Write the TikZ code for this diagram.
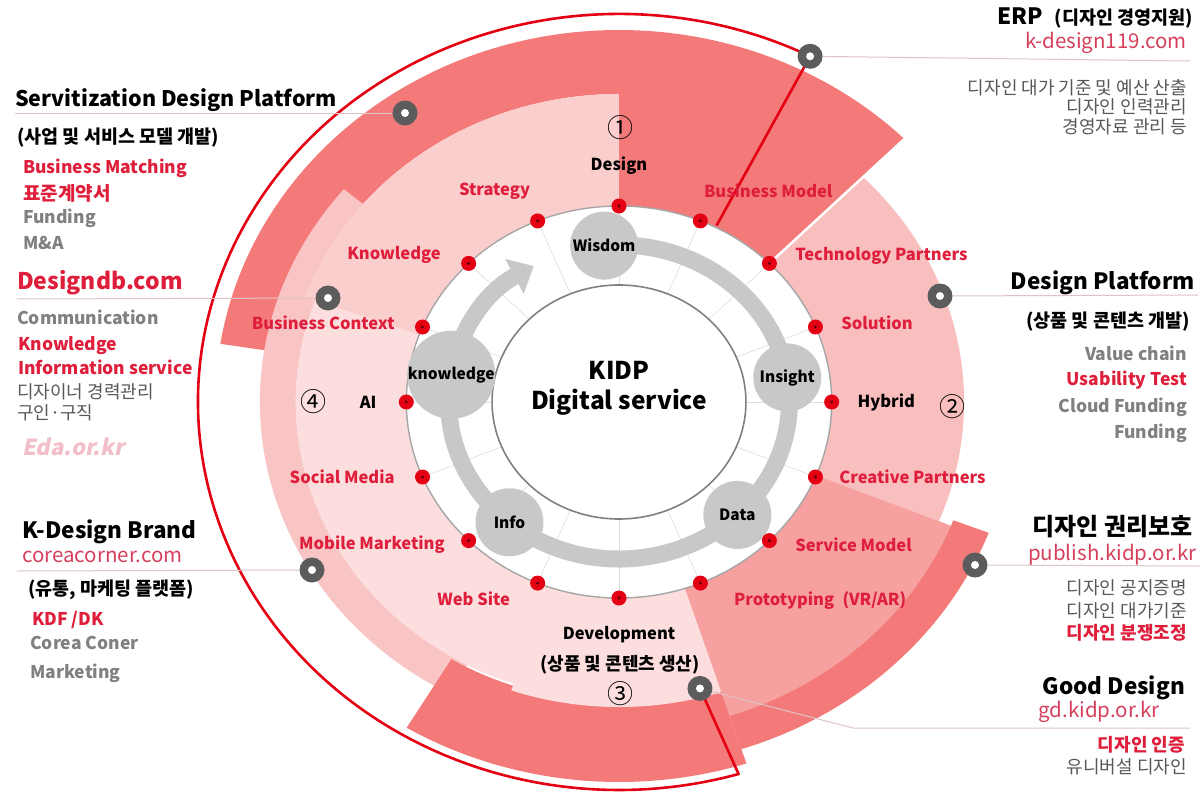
\documentclass[tikz,border=0pt]{standalone}
\usepackage{fontspec}
\setmainfont{Noto Sans CJK KR}
\newfontfamily\slantfont{Noto Sans CJK KR}[FakeSlant=0.2]
\usetikzlibrary{positioning,arrows.meta}

\definecolor{dotred}{RGB}{228,0,18}
\definecolor{textred}{RGB}{222,30,58}
\definecolor{urlred}{RGB}{214,64,92}
\definecolor{itemgray}{RGB}{128,128,128}
\definecolor{notegray}{RGB}{88,88,88}
\definecolor{edapink}{RGB}{242,190,200}
\definecolor{satpk}{RGB}{244,122,122}
\definecolor{lrpk}{RGB}{246,160,160}
\definecolor{dppk}{RGB}{249,190,190}
\definecolor{medpk}{RGB}{248,196,196}
\definecolor{lightpk}{RGB}{252,222,222}
\definecolor{servpk}{RGB}{251,206,206}
\definecolor{gearfill}{RGB}{200,200,200}
\definecolor{discgray}{RGB}{92,92,92}
\definecolor{leadgray}{RGB}{222,196,198}

\begin{document}
\begin{tikzpicture}[x=1pt, y=-1pt]
    \tikzstyle{head} = [anchor=west, inner sep=0pt, font=\bfseries\fontsize{22.5}{26}\selectfont]
    \tikzstyle{headr} = [head, anchor=east]
    \tikzstyle{sub} = [anchor=west, inner sep=0pt, font=\bfseries\fontsize{18.5}{21}\selectfont]
    \tikzstyle{subr} = [sub, anchor=east]
    \tikzstyle{item} = [anchor=west, inner sep=0pt, text=itemgray, font=\bfseries\fontsize{17.5}{20}\selectfont]
    \tikzstyle{itemr} = [item, anchor=east]
    \tikzstyle{note} = [anchor=west, inner sep=0pt, text=notegray, font=\fontsize{18}{21}\selectfont]
    \tikzstyle{noter} = [note, anchor=east]
    \tikzstyle{url} = [anchor=west, inner sep=0pt, text=urlred, font=\fontsize{20.5}{23}\selectfont]
    \tikzstyle{urlr} = [url, anchor=east]
    \tikzstyle{lbl} = [inner sep=0pt, text=textred, font=\bfseries\fontsize{16.5}{19}\selectfont]
    \tikzstyle{lblk} = [lbl, text=black]
    \tikzstyle{num} = [inner sep=0pt, font=\fontsize{26}{29}\selectfont]
    \tikzstyle{reddot} = [circle, fill=dotred, minimum size=15pt, inner sep=0pt, path picture={\fill[black!60!dotred] (path picture bounding box.center) circle[radius=1.6pt];}]
    \tikzstyle{gear} = [circle, fill=gearfill, minimum size=68pt, inner sep=0pt, font=\bfseries\fontsize{15.5}{18}\selectfont]
    \tikzstyle{disc} = [circle, fill=discgray, minimum size=25pt, inner sep=0pt, path picture={\fill[white] (path picture bounding box.center) circle[radius=4pt];}]
    \tikzstyle{leader} = [draw=leadgray, line width=1pt]
    \tikzstyle{redline} = [draw=dotred, line width=2.6pt, line join=round]

    \fill[white] (0,0) rectangle (1202,792);
    \useasboundingbox (0,0) rectangle (1202,792);

    % Wheel
    \begin{scope}[shift={(619,402)}, xscale=1.085, yscale=-1]
        % coloured sectors
        \foreach \c/\a/\b/\ri/\ro in {lightpk/0/360/196/298, satpk/90/171/308/372, medpk/140/242/298/331, servpk/90/160/196/308, satpk/45/90/196/372, dppk/-22/45/196/318, lrpk/-72/-22/196/330, satpk/-72/-21/330/365, satpk/-121/-72/300/380, lightpk/-109/-72/196/305}
            \fill[fill=\c] (\a:\ri) arc[start angle=\a, end angle=\b, radius=\ri] -- (\b:\ro) arc[start angle=\b, end angle=\a, radius=\ro] -- cycle;
        \draw[white, line width=2.5pt] (45:196) -- (45:372);

        % white ring
        \fill[white] (0,0) circle[radius=196];
        \foreach \a in {0,22.5,...,337.5}
            \draw[gearfill!60, line width=0.6pt] (\a:117) -- (\a:196);
        \draw[gray!70, line width=1.4pt] (0,0) circle[radius=196];

        % cycle arrow
        \draw[gearfill, line width=17pt, -{Triangle[width=38pt,length=22pt]}] (95:157) arc[start angle=95, end angle=-240, radius=157];

        % centre
        \draw[fill=white, draw=gray, line width=1.6pt] (0,0) circle[radius=117];
        \node[font=\bfseries\fontsize{24.5}{30}\selectfont, align=center] (kidp) at (0,14) {KIDP\\Digital service};

        \node[gear] (wisdom) at (95:157) {Wisdom};
        \node[gear] (insight) at (9:157) {Insight};
        \node[gear] (data) at (-46:157) {Data};
        \node[gear] (info) at (-130:157) {Info};
        \node[gear] (knowl) at (170:157) {knowledge};

        % dots
        \foreach \i in {0,...,15}
            \node[reddot] (d\i) at ({90-22.5*\i}:196) {};

        % red frame
        \coordinate (bmring) at (63:198);
        \coordinate (erpc) at (63:388);
        \coordinate (gdc) at (-75.4:296);
        \draw[redline] (bmring) -- (erpc) arc[start angle=63, end angle=286.5, radius=388] -- (gdc);
    \end{scope}

    % Connector discs
    \node[disc] (erp) at (erpc) {};
    \node[disc] (gd) at (gdc) {};
    \node[disc] (serv) at (405,113) {};
    \node[disc] (ddb) at (328,298) {};
    \node[disc] (kb) at (312,570) {};
    \node[disc] (dp) at (940,296) {};
    \node[disc] (prot) at (975,565) {};

    \coordinate (servend) at (15,113);
    \coordinate (ddbend) at (17,299);
    \coordinate (kbend) at (17,571);
    \coordinate (erpend) at (1190,61);
    \coordinate (dpend) at (1198,295);
    \coordinate (protend) at (1200,566);
    \coordinate (gdbend) at (853,728);
    \coordinate (gdend) at (1190,728);
    \draw[leader] (servend) -- (serv);
    \draw[leader] (ddbend) -- (ddb);
    \draw[leader] (kbend) -- (kb);
    \draw[leader] (erp) -- (erpend);
    \draw[leader] (dp) -- (dpend);
    \draw[leader] (prot) -- (protend);
    \draw[leader] (gd) -- (gdbend) -- (gdend);

    % Dot labels
    \node[lblk, above=24pt of d0] (l0) {Design};
    \node[lbl, above right=18pt and -2pt of d1] (l1) {Business Model};
    \node[lbl, right=18pt of d2, yshift=8pt] (l2) {Technology Partners};
    \node[lbl, right=18pt of d3, yshift=4pt] (l3) {Solution};
    \node[lblk, right=18pt of d4] (l4) {Hybrid};
    \node[lbl, right=16pt of d5] (l5) {Creative Partners};
    \node[lbl, right=18pt of d6, yshift=-4pt] (l6) {Service Model};
    \node[lbl, below right=3pt and 28pt of d7] (l7) {Prototyping\enspace(VR/AR)};
    \node[lblk, below=20pt of d8] (l8) {Development};
    \node[lbl, below left=3pt and 22pt of d9] (l9) {Web Site};
    \node[lbl, left=16pt of d10, yshift=-4pt] (l10) {Mobile Marketing};
    \node[lbl, left=20pt of d11] (l11) {Social Media};
    \node[lblk, left=22pt of d12] (l12) {AI};
    \node[lbl, left=20pt of d13, yshift=4pt] (l13) {Business Context};
    \node[lbl, left=20pt of d14, yshift=9pt] (l14) {Knowledge};
    \node[lbl, above left=16pt and 2pt of d15] (l15) {Strategy};

    \node[sub, anchor=center, font=\bfseries\fontsize{18}{21}\selectfont] (dev_s) at (620,665) {(상품 및 콘텐츠 생산)};
    \node[num] (n1) at (620,128) {①};
    \node[num] (n2) at (952,407) {②};
    \node[num] (n3) at (620,694) {③};
    \node[num] (n4) at (313,402) {④};

    % Servitization Design Platform
    \node[head, font=\bfseries\fontsize{21.5}{25}\selectfont] (serv_t) at (15,100) {Servitization Design Platform};
    \node[sub] (serv_s) at (17,138) {(사업 및 서비스 모델 개발)};
    \node[item, text=textred] (serv_1) at (23,168) {Business Matching};
    \node[item, text=textred, font=\bfseries\fontsize{19}{21}\selectfont] (serv_2) at (23,193) {표준계약서};
    \node[item] (serv_3) at (23,218) {Funding};
    \node[item] (serv_4) at (23,243) {M\&A};

    % Designdb.com
    \node[head, text=textred, font=\bfseries\fontsize{23}{26}\selectfont] (ddb_t) at (17,283) {Designdb.com};
    \node[item] (ddb_1) at (17,317) {Communication};
    \node[item, text=textred] (ddb_2) at (18,346) {Knowledge};
    \node[item, text=textred] (ddb_3) at (18,367) {Information service};
    \node[note] (ddb_4) at (17,392) {디자이너 경력관리};
    \node[note] (ddb_5) at (17,413) {구인·구직};
    \node[anchor=west, inner sep=0pt, text=edapink, font=\slantfont\bfseries\fontsize{22}{25}\selectfont] (ddb_6) at (22,447) {Eda.or.kr};

    % K-Design Brand
    \node[head] (kb_t) at (22,532) {K-Design Brand};
    \node[url] (kb_u) at (22,557) {coreacorner.com};
    \node[sub] (kb_s) at (28,590) {(유통, 마케팅 플랫폼)};
    \node[item, text=textred] (kb_1) at (32,620) {KDF /DK};
    \node[item] (kb_2) at (30,643) {Corea Coner};
    \node[item] (kb_3) at (30,673) {Marketing};

    % ERP
    \node[headr] (erp_t) at (1193,18) {ERP\enspace{\fontsize{18.5}{21}\selectfont(디자인 경영지원)}};
    \node[urlr] (erp_u) at (1187,43) {k-design119.com};
    \node[noter] (erp_1) at (1187,88) {디자인 대가 기준 및 예산 산출};
    \node[noter] (erp_2) at (1187,107) {디자인 인력관리};
    \node[noter] (erp_3) at (1187,127) {경영자료 관리 등};

    % Design Platform
    \node[headr] (dp_t) at (1195,283) {Design Platform};
    \node[subr] (dp_s) at (1190,322) {(상품 및 콘텐츠 개발)};
    \node[itemr] (dp_1) at (1187,353) {Value chain};
    \node[itemr, text=textred] (dp_2) at (1187,380) {Usability Test};
    \node[itemr] (dp_3) at (1187,407) {Cloud Funding};
    \node[itemr] (dp_4) at (1187,433) {Funding};

    % Design rights
    \node[headr, font=\bfseries\fontsize{24}{28}\selectfont] (prot_t) at (1193,527) {디자인 권리보호};
    \node[urlr] (prot_u) at (1197,555) {publish.kidp.or.kr};
    \node[noter] (prot_1) at (1187,588) {디자인 공지증명};
    \node[noter] (prot_2) at (1187,611) {디자인 대가기준};
    \node[noter, text=textred, font=\bfseries\fontsize{18}{21}\selectfont] (prot_3) at (1187,633) {디자인 분쟁조정};

    % Good Design
    \node[headr] (gd_t) at (1185,688) {Good Design};
    \node[urlr] (gd_u) at (1160,712) {gd.kidp.or.kr};
    \node[noter, text=textred, font=\bfseries\fontsize{18}{21}\selectfont] (gd_1) at (1185,745) {디자인 인증};
    \node[noter] (gd_2) at (1187,767) {유니버설 디자인};
\end{tikzpicture}
\end{document}
